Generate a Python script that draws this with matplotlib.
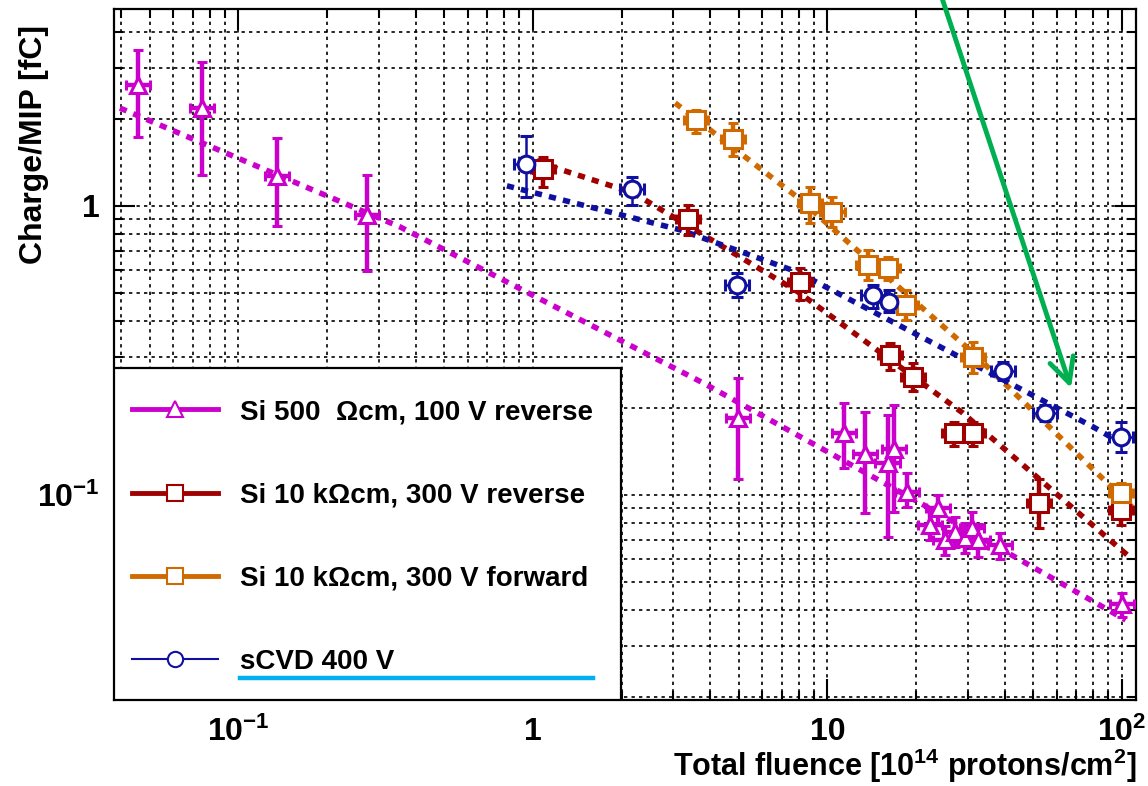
import matplotlib
matplotlib.use('Agg')
import matplotlib.pyplot as plt
import matplotlib.font_manager as fm
from matplotlib.lines import Line2D
from matplotlib.patches import Rectangle
from matplotlib.ticker import FixedLocator, LogLocator, NullFormatter
import numpy as np

# fonts: narrow variant for the x axis if available
nazwy = {f.name for f in fm.fontManager.ttflist}
WASKI = 'Liberation Sans Narrow' if 'Liberation Sans Narrow' in nazwy else 'Liberation Sans'

plt.rcParams['font.family'] = ['Liberation Sans', 'DejaVu Sans']
plt.rcParams['font.weight'] = 'bold'
plt.rcParams['mathtext.fontset'] = 'custom'
plt.rcParams['mathtext.rm'] = 'Liberation Sans:bold'
plt.rcParams['mathtext.bf'] = 'Liberation Sans:bold'
plt.rcParams['mathtext.it'] = 'Liberation Sans:bold'
plt.rcParams['mathtext.default'] = 'rm'

# ---- data: Si 500 Ohm cm, 100 V reverse ----
si500_x = [0.0456, 0.0751, 0.135, 0.273, 4.97, 11.4, 13.4, 16.0, 16.8, 18.6,
           22.3, 23.7, 25.1, 27.1, 29.3, 31.0, 32.4, 38.5, 100]
si500_y = [2.62, 2.18, 1.27, 0.93, 0.185, 0.164, 0.139, 0.129, 0.144, 0.102,
           0.0787, 0.0902, 0.0699, 0.0745, 0.0710, 0.0769, 0.0699, 0.0671, 0.042]
si500_lo = [1.73, 1.28, 0.853, 0.596, 0.113, 0.124, 0.0867, 0.0716, 0.0873, 0.0909,
            0.070, 0.080, 0.062, 0.066, 0.063, 0.068, 0.061, 0.060, 0.0378]
si500_hi = [3.46, 3.15, 1.72, 1.28, 0.254, 0.208, 0.194, 0.189, 0.205, 0.119,
            0.088, 0.100, 0.078, 0.084, 0.080, 0.087, 0.079, 0.074, 0.0458]

# ---- Si 10 kOhm cm, 300 V reverse ----
rev_x = [1.08, 3.36, 8.07, 16.3, 19.5, 26.9, 31.2, 52.3, 99.3]
rev_y = [1.34, 0.90, 0.546, 0.305, 0.256, 0.164, 0.164, 0.0938, 0.0887]
rev_lo = [1.16, 0.79, 0.473, 0.271, 0.229, 0.147, 0.147, 0.0769, 0.0787]
rev_hi = [1.48, 1.01, 0.61, 0.336, 0.286, 0.179, 0.179, 0.113, 0.100]

# ---- Si 10 kOhm cm, 300 V forward ----
fwd_x = [3.58, 4.78, 8.72, 10.4, 13.7, 16.0, 18.5, 31.2, 99.3]
fwd_y = [1.98, 1.71, 1.02, 0.953, 0.625, 0.61, 0.454, 0.30, 0.1016]
fwd_lo = [1.79, 1.49, 0.873, 0.846, 0.555, 0.555, 0.403, 0.264, 0.092]
fwd_hi = [2.15, 1.94, 1.16, 1.07, 0.704, 0.667, 0.512, 0.338, 0.110]

# ---- sCVD 400 V ----
cvd_x = [0.947, 2.17, 4.93, 14.3, 16.2, 39.4, 54.8, 99.3]
cvd_y = [1.40, 1.14, 0.533, 0.492, 0.466, 0.269, 0.192, 0.159]
cvd_lo = [1.07, 1.01, 0.484, 0.444, 0.43, 0.25, 0.18, 0.141]
cvd_hi = [1.75, 1.26, 0.586, 0.533, 0.512, 0.289, 0.205, 0.178]

# ---- fit curves ----
fit_si500_x = [0.0396, 0.3535, 3.78, 20.6, 103]
fit_si500_y = [2.18, 0.846, 0.244, 0.0938, 0.0369]
fit_rev_x = [1.03, 2.19, 4.78, 7.94, 28.8, 106]
fit_rev_y = [1.42, 1.109, 0.688, 0.504, 0.192, 0.061]
fit_fwd_x = [3.04, 7.88, 31.2, 108]
fit_fwd_y = [2.27, 1.074, 0.31, 0.0909]
fit_cvd_x = [0.816, 3.16, 7.88, 79.7, 106]
fit_cvd_y = [1.173, 0.826, 0.591, 0.172, 0.1455]

etykiety = ['Si 500  \u03a9cm, 100 V reverse',
            'Si 10 k\u03a9cm, 300 V reverse',
            'Si 10 k\u03a9cm, 300 V forward',
            'sCVD 400 V']

MAGENTA = '#CC00CC'
CZERWONY = '#A00000'
POMARANCZ = '#D06A00'
NIEBIESKI = '#1010A0'
UCHO = 1.10  # size of the small horizontal "ears" on each point

fig = plt.figure(figsize=(11.48, 7.86), dpi=100)
ax = fig.add_axes([114 / 1148, 1 - 700 / 786, 1022 / 1148, 691 / 786])
ax.set_xscale('log')
ax.set_yscale('log')
ax.set_xlim(0.0378, 111.6)
ax.set_ylim(0.0195, 4.8)


def punkty(x, y, lo, hi, kolor, marker, ms, lw, cap):
    x = np.array(x)
    y = np.array(y)
    yerr = np.array([y - np.array(lo), np.array(hi) - y])
    xerr = np.array([x - x / UCHO, x * UCHO - x])
    ax.errorbar(x, y, yerr=yerr, xerr=xerr, fmt=marker, color=kolor, ms=ms,
                mfc='white', mec=kolor, mew=2.2, elinewidth=lw, capsize=cap,
                capthick=lw + 0.5, zorder=4)


def fit(x, y, kolor):
    ax.plot(x, y, color=kolor, lw=4.0, linestyle=(0, (1.3, 1.3)), zorder=3)


fit(fit_si500_x, fit_si500_y, MAGENTA)
fit(fit_rev_x, fit_rev_y, CZERWONY)
fit(fit_fwd_x, fit_fwd_y, POMARANCZ)
fit(fit_cvd_x, fit_cvd_y, NIEBIESKI)

punkty(si500_x, si500_y, si500_lo, si500_hi, MAGENTA, '^', 12, 3.2, 3.8)
punkty(rev_x, rev_y, rev_lo, rev_hi, CZERWONY, 's', 13, 3.2, 3.8)
punkty(fwd_x, fwd_y, fwd_lo, fwd_hi, POMARANCZ, 's', 13, 3.2, 3.8)
punkty(cvd_x, cvd_y, cvd_lo, cvd_hi, NIEBIESKI, 'o', 12, 1.8, 4)

# axes, ticks, grid (ROOT style)
ax.xaxis.set_major_locator(FixedLocator([0.1, 1, 10, 100]))
ax.set_xticklabels(['10$^{-1}$', '1', '10', '10$^{2}$'])
ax.xaxis.set_minor_locator(LogLocator(base=10, subs=np.arange(2, 10), numticks=20))
ax.xaxis.set_minor_formatter(NullFormatter())
ax.yaxis.set_major_locator(FixedLocator([0.1, 1]))
ax.set_yticklabels(['10$^{-1}$', '1'])
ax.yaxis.set_minor_locator(LogLocator(base=10, subs=np.arange(2, 10), numticks=20))
ax.yaxis.set_minor_formatter(NullFormatter())

ax.tick_params(which='both', direction='in', top=True, right=True, width=1.5, color='black')
ax.tick_params(which='major', length=15)
ax.tick_params(which='minor', length=6.5)
ax.tick_params(axis='x', which='major', pad=12, labelsize=23)
ax.tick_params(axis='y', which='major', pad=10, labelsize=23)
for t in ax.get_xticklabels():
    t.set_fontfamily(WASKI)
for s in ax.spines.values():
    s.set_linewidth(1.6)

ax.grid(True, which='both', color='black', linestyle=(0, (2, 2.5)), linewidth=1.2)
ax.set_axisbelow(True)

fig.text(34 / 1148, 1 - 144 / 786, 'Charge/MIP [fC]', rotation=90, ha='center',
         va='center', fontsize=23, fontweight='bold')
fig.text(1136 / 1148, 1 - 766 / 786, 'Total fluence [10$^{14}$ protons/cm$^{2}$]',
         ha='right', va='center', fontsize=22, fontweight='bold', family=WASKI)

# legend box
ax.add_patch(Rectangle((0, 0), 507 / 1022, 332 / 691, transform=ax.transAxes,
                       facecolor='white', edgecolor='black', lw=1.6, zorder=10))
uchwyty = [
    Line2D([], [], color=MAGENTA, lw=3.5, marker='^', ms=11, mfc='white', mec=MAGENTA, mew=1.5),
    Line2D([], [], color=CZERWONY, lw=3.5, marker='s', ms=11, mfc='white', mec=CZERWONY, mew=1.5),
    Line2D([], [], color=POMARANCZ, lw=3.5, marker='s', ms=11, mfc='white', mec=POMARANCZ, mew=1.5),
    Line2D([], [], color=NIEBIESKI, lw=1.5, marker='o', ms=11, mfc='white', mec=NIEBIESKI, mew=1.5),
]
leg = ax.legend(uchwyty, etykiety, loc='upper left', bbox_to_anchor=(18 / 1022, 301 / 691),
                frameon=False, fontsize=20, borderpad=0, borderaxespad=0,
                handlelength=3.1, handletextpad=0.8, labelspacing=2.06)
leg.set_zorder(11)
for t in leg.get_texts():
    t.set_fontweight('bold')

# sky-blue underline under the last legend entry
fig.add_artist(Line2D([240 / 1148, 593 / 1148], [1 - 678 / 786, 1 - 678 / 786],
                      transform=fig.transFigure, color='#00B0F0', lw=3.2, zorder=20))

# green arrow coming from above the frame
ax.annotate('', xy=(1071, 786 - 388), xytext=(938, 800), xycoords='figure pixels',
            textcoords='figure pixels', annotation_clip=False,
            arrowprops=dict(arrowstyle='->, head_length=1.1, head_width=0.55',
                            color='#00B050', lw=3.5, mutation_scale=16, shrinkA=0, shrinkB=0))

plt.savefig('out.png', dpi=100)
